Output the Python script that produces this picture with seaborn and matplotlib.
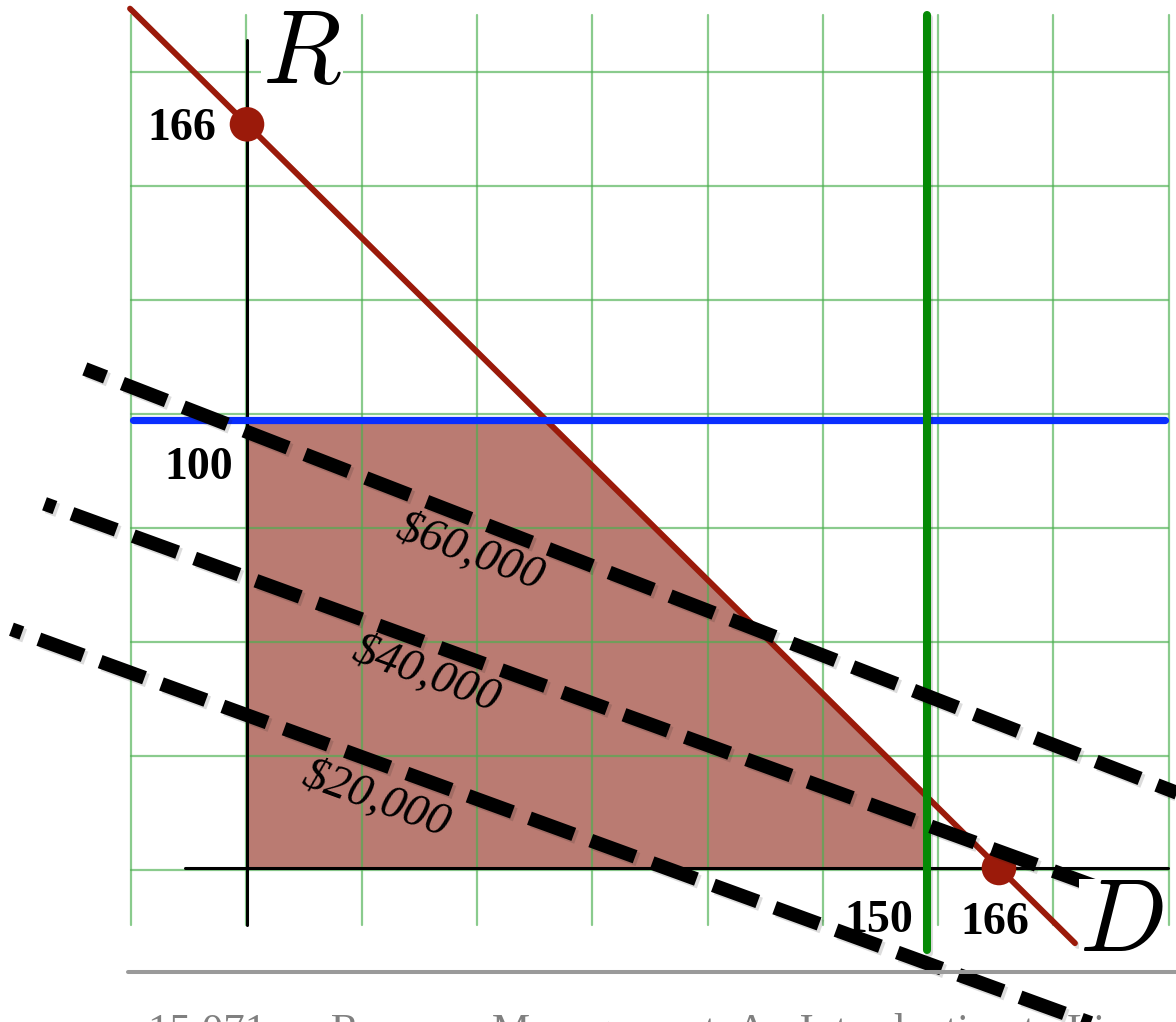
import numpy as np
import pandas as pd
import matplotlib
matplotlib.use("Agg")
import matplotlib.pyplot as plt
import matplotlib.patheffects as pe
from matplotlib.lines import Line2D
import seaborn as sns

# Constraints of the production LP (D = discount seats, R = regular seats)
demand_limit = 150      # D <= 150
regular_limit = 100     # R <= 100
capacity = 166          # D + R <= 166

# Iso-profit lines: end points in (D, R) units and label anchors
profit_labels = ["$60,000", "$40,000", "$20,000"]
profit_start_D = [-35.8, -44.7, -52.0]
profit_start_R = [111.4, 81.3, 53.3]
profit_end_D = [205.5, 198.7, 205.5]
profit_end_R = [16.7, -8.3, -41.7]
profit_label_D = [49.3, 39.4, 28.5]
profit_label_R = [70.3, 43.1, 15.2]

footer_text = "15.071 \u2014 Revenue Management: An Introduction to Linear Optimization"

sns.set_theme(style="white")
plt.rcParams["mathtext.fontset"] = "cm"
plt.rcParams["text.color"] = "black"
plt.rcParams["font.family"] = ["Liberation Serif", "DejaVu Serif"]

W, H = 1176, 1022
fig = plt.figure(figsize=(W / 100, H / 100), dpi=100)
ax = fig.add_axes([0, 0, 1, 1])
ax.set_axis_off()

# pixel scale of one unit and the origin position
sx, sy = 4.53, 4.48
ox, oy = 247, 868
ax.set_xlim(-ox / sx, (W - ox) / sx)
ax.set_ylim((oy - H) / sy, oy / sy)

def px_x(p):
    return (p - ox) / sx

def px_y(p):
    return (oy - p) / sy

shadow = [pe.SimpleLineShadow(offset=(2, -2), shadow_color="k", alpha=0.15), pe.Normal()]

# feasible region
corner = capacity - regular_limit
region = pd.DataFrame({
    "D": [0, 0, corner, demand_limit, demand_limit],
    "R": [0, regular_limit, regular_limit, capacity - demand_limit, 0],
})
ax.fill(region["D"], region["R"], color="#ba7b72", lw=0, zorder=1)

# background graph paper
grid_col = "#4caf50"
gx = [px_x(131 + 115.3 * k) for k in range(10)]
gy = [px_y(72 + 114 * k) for k in range(8)]
for x in gx:
    ax.plot([x, x], [px_y(925), px_y(15)], color=grid_col, alpha=0.65, lw=1.6, zorder=2)
for y in gy:
    ax.plot([px_x(131), px_x(1168)], [y, y], color=grid_col, alpha=0.65, lw=1.6, zorder=2)

# coordinate axes
ax.plot([0, 0], [px_y(925), px_y(40)], color="black", lw=2.2, zorder=3)
ax.plot([px_x(185), px_x(1168)], [0, 0], color="black", lw=2.2, zorder=3)

# capacity constraint D + R = 166
cap_D = np.array([px_x(130), px_x(1075)])
cap_df = pd.DataFrame({"D": cap_D, "R": capacity - cap_D})
sns.lineplot(data=cap_df, x="D", y="R", ax=ax, color="#9b1a0a", lw=4.2,
             sort=False, zorder=4, path_effects=shadow)

# regular limit R = 100
sns.lineplot(x=[px_x(133), px_x(1165)], y=[regular_limit, regular_limit], ax=ax,
             color="#0a2eff", lw=5.2, sort=False, zorder=5)

# demand limit D = 150
sns.lineplot(x=[demand_limit, demand_limit], y=[px_y(950), px_y(15)], ax=ax,
             color="#058a05", lw=5.8, sort=False, zorder=5, path_effects=shadow,
             orient="y")

# corner points on the capacity line
sns.scatterplot(x=[0, capacity], y=[capacity, 0], ax=ax, color="#9b1a0a",
                s=620, edgecolor="none", zorder=6)

# iso-profit lines
offsets = [1.8, 2.6, 2.6]
for i in range(len(profit_labels)):
    seg = pd.DataFrame({"D": [profit_start_D[i], profit_end_D[i]],
                        "R": [profit_start_R[i], profit_end_R[i]]})
    sns.lineplot(data=seg, x="D", y="R", ax=ax, color="black", lw=10,
                 sort=False, zorder=7)
    ln = ax.lines[-1]
    ln.set_linestyle((offsets[i], (3.4, 1.3)))
    ln.set_dash_capstyle("butt")
    ln.set_path_effects([pe.SimpleLineShadow(offset=(2, -2), shadow_color="k", alpha=0.15),
                         pe.Normal()])
    ax.text(profit_label_D[i], profit_label_R[i], profit_labels[i], fontsize=34,
            style="italic", rotation=-20, ha="center", va="center", color="black",
            rotation_mode="anchor", zorder=8, parse_math=False)

# value labels
num_kw = dict(fontsize=33, fontweight="bold", color="black", zorder=8)
ax.text(px_x(216), px_y(129), "166", ha="right", va="center", **num_kw)
ax.text(px_x(233), px_y(468), "100", ha="right", va="center", **num_kw)
ax.text(demand_limit - 3, px_y(921), "150", ha="right", va="center", **num_kw)
ax.text(capacity - 1, px_y(923), "166", ha="center", va="center", **num_kw)

# axis names
ax.text(px_x(302), px_y(58), r"$R$", fontsize=74, ha="center", va="center", zorder=8,
        color="black", bbox=dict(facecolor="white", edgecolor="none", pad=1))
ax.text(px_x(1121), px_y(926), r"$D$", fontsize=74, ha="center", va="center", zorder=9,
        color="black", bbox=dict(facecolor="white", edgecolor="none", pad=0))

# footer rule and caption
fig.add_artist(Line2D([128 / W, 1.0], [1 - 972 / H] * 2, color="#9a9a9a", lw=2.9))
fig.text(148 / W, 1 - 1043 / H, footer_text, fontsize=31, color="#808080",
         ha="left", va="baseline")

fig.savefig("out.png", dpi=100)
